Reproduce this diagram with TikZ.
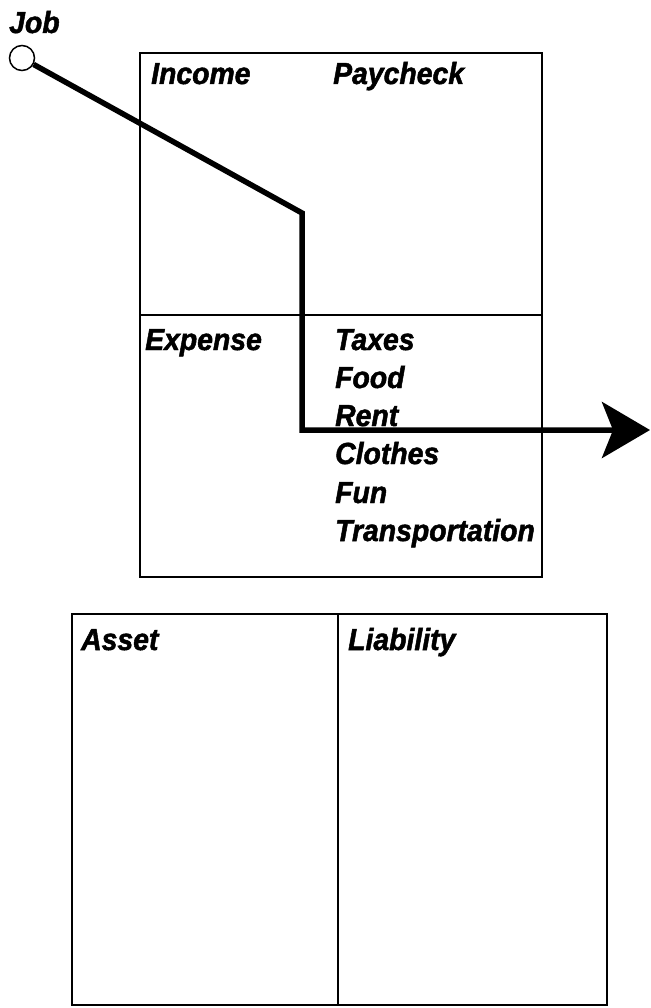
\documentclass[tikz,border=0pt]{standalone}
\usepackage{fontspec}
\setmainfont{Liberation Sans}[FakeStretch=0.93, BoldItalicFeatures={FakeBold=1.6}]
\usetikzlibrary{arrows.meta}
\begin{document}
\begin{tikzpicture}[x=1pt,y=-1pt,
  box/.style={draw, line width=1.8pt},
  lbl/.style={anchor=base west, inner sep=0pt, font=\fontsize{30.5}{30.5}\selectfont\bfseries\itshape},
  flow/.style={line width=5.5pt, -{Stealth[length=48pt,width=56pt,inset=11pt]}},
  dot/.style={circle, draw, line width=1.5pt, minimum size=25pt, inner sep=0pt, fill=white}]
\useasboundingbox (0,0) rectangle (650,1008);
% top box
\draw[box] (140,53) rectangle (542,577);
\draw[box] (140,315) -- (542,315);
% bottom boxes
\draw[box] (72,614) rectangle (607,1005);
\draw[box] (338,614) -- (338,1005);
% labels
\node[lbl] (job) at (9,33) {Job};
\node[lbl] (income) at (151,84) {Income};
\node[lbl] (paycheck) at (333,84) {Paycheck};
\node[lbl] (expense) at (145,350) {Expense};
\node[lbl] (taxes) at (335,350) {Taxes};
\node[lbl] (food) at (335,388) {Food};
\node[lbl] (rent) at (335,426) {Rent};
\node[lbl] (clothes) at (335,464) {Clothes};
\node[lbl] (fun) at (335,503) {Fun};
\node[lbl] (transp) at (335,541) {Transportation};
\node[lbl] (asset) at (81,650) {Asset};
\node[lbl] (liab) at (348,650) {Liability};
% flow
\node[dot] (jobdot) at (22,58) {};
\coordinate (b1) at (302,213);
\coordinate (b2) at (302,430);
\coordinate (tip) at (650,430);
\draw[flow] (jobdot) -- (b1) -- (b2) -- (tip);
\end{tikzpicture}
\end{document}
